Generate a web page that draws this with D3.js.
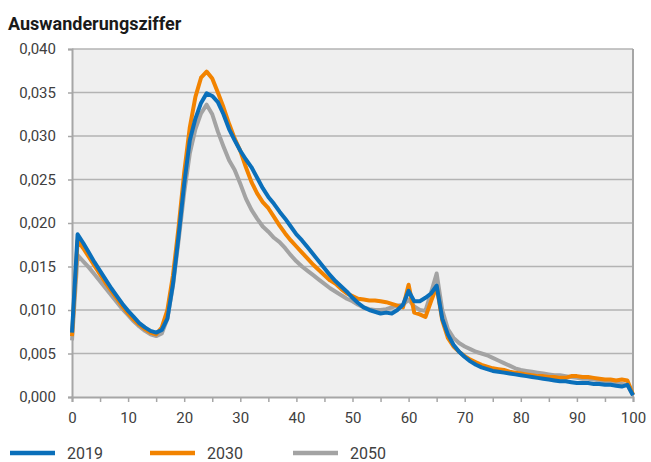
<!DOCTYPE html>
<html><head><meta charset="utf-8">
<script src="https://cdn.jsdelivr.net/npm/d3@7"></script>
<style>body{margin:0;background:#fff;}svg{display:block;font-family:Roboto,"Noto Sans",sans-serif;}</style>
</head><body>
<svg id="c" width="651" height="462"></svg>
<script>
const title = "Auswanderungsziffer";
const seriesNames = ["2019", "2030", "2050"];
const seriesColors = ["#0a6fba", "#f28300", "#a3a3a3"];
const ages = d3.range(0, 101);
const yTicks = [0, 0.005, 0.01, 0.015, 0.02, 0.025, 0.03, 0.035, 0.04];
const xTicks = [0, 10, 20, 30, 40, 50, 60, 70, 80, 90, 100];

const v2019 = [
0.0074,0.0187,0.0177,0.0166,0.0155,0.0145,0.0135,0.0125,0.0116,0.0107,
0.0099,0.0092,0.0085,0.0080,0.0076,0.0074,0.0077,0.0090,0.0130,0.0185,
0.0245,0.0295,0.0320,0.0338,0.0349,0.0346,0.0339,0.0325,0.0308,0.0295,
0.0283,0.0273,0.0264,0.0252,0.0240,0.0230,0.0222,0.0213,0.0205,0.0196,
0.0187,0.0180,0.0172,0.0164,0.0156,0.0148,0.0140,0.0133,0.0127,0.0121,
0.0114,0.0108,0.0103,0.0100,0.0098,0.0096,0.0097,0.0096,0.0100,0.0106,
0.0122,0.0110,0.0110,0.0114,0.0119,0.0128,0.0090,0.0072,0.0060,0.0052,
0.0046,0.0041,0.0037,0.0034,0.0032,0.0030,0.0029,0.0028,0.0027,0.0026,
0.0025,0.0024,0.0023,0.0022,0.0021,0.0020,0.0019,0.0018,0.0018,0.0017,
0.0016,0.0016,0.0016,0.0015,0.0015,0.0014,0.0014,0.0013,0.0012,0.0014,
0.0002];
const v2030 = [
0.0070,0.0180,0.0171,0.0161,0.0151,0.0141,0.0131,0.0122,0.0113,0.0104,
0.0096,0.0089,0.0083,0.0078,0.0074,0.0072,0.0080,0.0100,0.0140,0.0195,
0.0258,0.0310,0.0345,0.0367,0.0374,0.0366,0.0350,0.0333,0.0314,0.0297,
0.0283,0.0264,0.0247,0.0234,0.0224,0.0217,0.0207,0.0197,0.0188,0.0180,
0.0173,0.0166,0.0159,0.0152,0.0146,0.0140,0.0134,0.0130,0.0124,0.0119,
0.0116,0.0113,0.0112,0.0111,0.0111,0.0110,0.0109,0.0107,0.0105,0.0103,
0.0129,0.0097,0.0095,0.0092,0.0110,0.0127,0.0088,0.0068,0.0058,0.0052,
0.0047,0.0043,0.0040,0.0037,0.0035,0.0033,0.0032,0.0031,0.0029,0.0028,
0.0027,0.0026,0.0025,0.0024,0.0024,0.0023,0.0023,0.0022,0.0022,0.0024,
0.0024,0.0023,0.0023,0.0022,0.0021,0.0020,0.0020,0.0019,0.0020,0.0019,
0.0003];
const v2050 = [
0.0065,0.0163,0.0156,0.0149,0.0141,0.0133,0.0125,0.0117,0.0109,0.0101,
0.0094,0.0087,0.0081,0.0076,0.0072,0.0070,0.0073,0.0090,0.0128,0.0180,
0.0235,0.0280,0.0308,0.0326,0.0336,0.0325,0.0305,0.0288,0.0272,0.0261,
0.0245,0.0228,0.0215,0.0205,0.0196,0.0190,0.0183,0.0178,0.0171,0.0163,
0.0156,0.0150,0.0145,0.0140,0.0135,0.0130,0.0125,0.0121,0.0117,0.0113,
0.0110,0.0106,0.0103,0.0101,0.0100,0.0100,0.0101,0.0103,0.0105,0.0106,
0.0112,0.0104,0.0100,0.0099,0.0120,0.0142,0.0100,0.0078,0.0068,0.0062,
0.0058,0.0055,0.0052,0.0050,0.0048,0.0045,0.0042,0.0039,0.0036,0.0033,
0.0031,0.0030,0.0029,0.0028,0.0027,0.0026,0.0025,0.0025,0.0024,0.0023,
0.0022,0.0021,0.0021,0.0020,0.0019,0.0018,0.0017,0.0016,0.0015,0.0014,
0.0002];
const seriesValues = [v2019, v2030, v2050];

const svg = d3.select("#c");
const L = 72, R = 633, T = 49, B = 397;
const x = d3.scaleLinear().domain([0, 100]).range([L, R]);
const y = d3.scaleLinear().domain([0, 0.04]).range([B, T]);

svg.append("rect").attr("x", L).attr("y", T).attr("width", R - L).attr("height", B - T).attr("fill", "#efefef");

svg.append("g").selectAll("line").data(yTicks.filter(d => d > 0)).join("line")
  .attr("x1", L).attr("x2", R).attr("y1", d => y(d)).attr("y2", d => y(d))
  .attr("stroke", "#b3b3b3").attr("stroke-width", 1.5);

svg.append("line").attr("x1", R).attr("x2", R).attr("y1", T).attr("y2", B)
  .attr("stroke", "#a6a6a6").attr("stroke-width", 2);

const fmt = d => d3.format(".3f")(d).replace(".", ",");
const yAxis = d3.axisLeft(y).tickValues(yTicks).tickFormat(fmt).tickSize(4).tickPadding(12);
const gy = svg.append("g").attr("transform", `translate(${L},0)`).call(yAxis);
gy.select(".domain").attr("stroke", "#a6a6a6").attr("stroke-width", 2);
gy.selectAll(".tick line").attr("stroke", "#a6a6a6").attr("stroke-width", 1.5);
gy.selectAll("text").attr("font-size", 15).attr("fill", "#404040").attr("font-family", "Roboto");

const xAxis = d3.axisBottom(x).tickValues(d3.range(0, 101, 5)).tickFormat(d => xTicks.includes(d) ? d : "").tickSize(5).tickPadding(10);
const gx = svg.append("g").attr("transform", `translate(0,${B})`).call(xAxis);
gx.select(".domain").attr("stroke", "#a6a6a6").attr("stroke-width", 2);
gx.selectAll(".tick line").attr("stroke", "#a6a6a6").attr("stroke-width", 1.5);
gx.selectAll("text").attr("font-size", 15).attr("fill", "#404040").attr("font-family", "Roboto");

const line = d3.line().x((d, i) => x(ages[i])).y(d => y(d));
[2, 1, 0].forEach(k => {
  svg.append("path").datum(seriesValues[k]).attr("d", line)
    .attr("fill", "none").attr("stroke", seriesColors[k]).attr("stroke-width", 4)
    .attr("stroke-linejoin", "round");
});

svg.append("text").attr("x", 8).attr("y", 30).text(title)
  .attr("font-size", 18).attr("font-weight", "bold").attr("fill", "#1a1a1a");

const legX = [10, 150, 293];
seriesNames.forEach((n, i) => {
  const g = svg.append("g").attr("transform", `translate(${legX[i]},453)`);
  g.append("line").attr("x1", 0).attr("x2", 45).attr("y1", 0).attr("y2", 0)
    .attr("stroke", seriesColors[i]).attr("stroke-width", 4.5);
  g.append("text").attr("x", 57).attr("y", 0).attr("dy", "0.35em").text(n).attr("font-size", 16).attr("fill", "#404040");
});
</script>
</body></html>
